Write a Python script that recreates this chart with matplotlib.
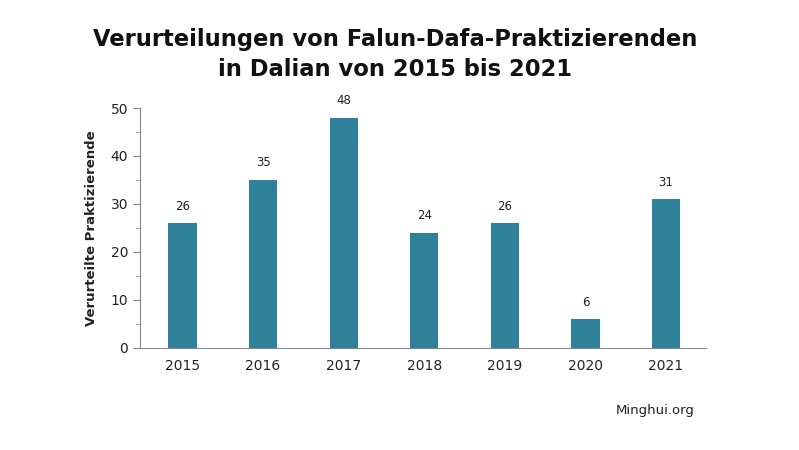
import matplotlib.pyplot as plt

years = ["2015", "2016", "2017", "2018", "2019", "2020", "2021"]
verurteilt = [26, 35, 48, 24, 26, 6, 31]

fig = plt.figure(figsize=(7.99, 4.5), dpi=100)
ax = fig.add_axes([0.175, 0.2267, 0.709, 0.5333])

x = range(len(years))
bars = ax.bar(x, verurteilt, width=0.35, color="#2f8099")
for b, v in zip(bars, verurteilt):
    ax.text(b.get_x() + b.get_width() / 2, v + 2.2, str(v), ha="center", va="bottom",
            fontsize=8.5, color="#222222")

ax.set_xticks(list(x))
ax.set_xticklabels(years, fontsize=10, color="#222222")
ax.set_xlim(-0.53, 6.5)
ax.set_ylim(0, 50)
ax.set_yticks(range(0, 51, 10))
ax.set_yticks(range(0, 51, 5), minor=True)
ax.tick_params(axis="y", labelsize=10, colors="#222222", length=5, color="#888888")
ax.tick_params(axis="y", which="minor", length=3, color="#888888")
ax.tick_params(axis="x", length=0, pad=8)
ax.set_ylabel("Verurteilte Praktizierende", fontsize=9.5, fontweight="bold", color="#222222", labelpad=9)

for s in ["top", "right"]:
    ax.spines[s].set_visible(False)
for s in ["left", "bottom"]:
    ax.spines[s].set_color("#888888")

fig.text(0.494, 0.878, "Verurteilungen von Falun-Dafa-Praktizierenden\nin Dalian von 2015 bis 2021",
         ha="center", va="center", fontsize=16.3, fontweight="bold", color="#111111", linespacing=1.4)
fig.text(0.82, 0.088, "Minghui.org", ha="center", va="center", fontsize=9.5, color="#222222")

fig.savefig("out.png", dpi=100)
